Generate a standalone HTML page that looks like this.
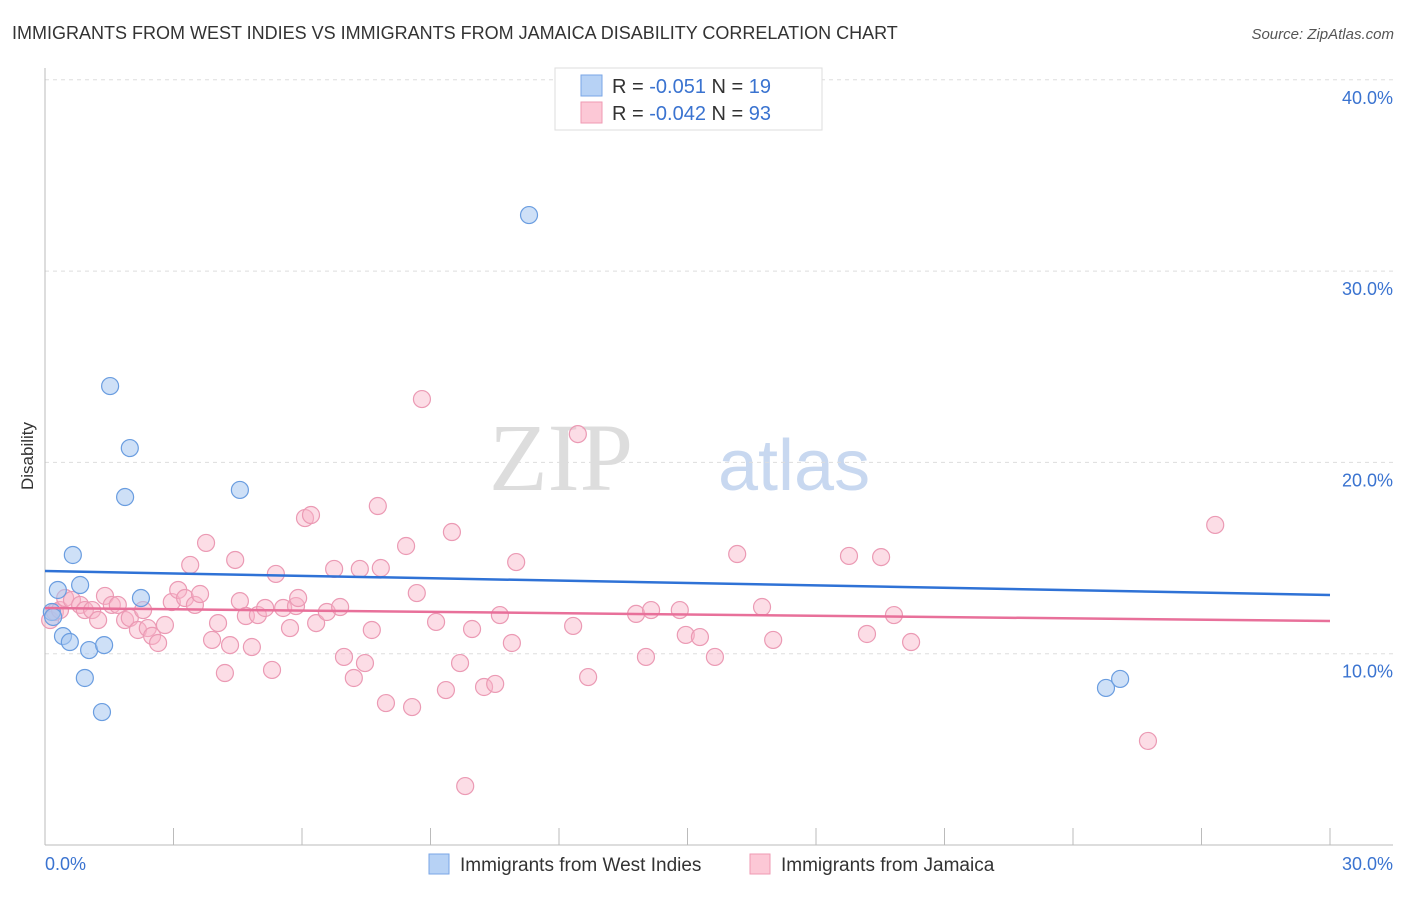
<!DOCTYPE html>
<html><head><meta charset="utf-8"><style>
body{margin:0;background:#fff;font-family:"Liberation Sans",sans-serif}
</style></head><body>
<svg id="chart" width="1406" height="892" xmlns="http://www.w3.org/2000/svg">
<text x="12" y="39" font-size="18" fill="#333">IMMIGRANTS FROM WEST INDIES VS IMMIGRANTS FROM JAMAICA DISABILITY CORRELATION CHART</text>
<text x="1394" y="39" font-size="15" font-style="italic" fill="#555" text-anchor="end">Source: ZipAtlas.com</text>
<text x="33" y="456" font-size="17" fill="#333" transform="rotate(-90 33 456)" text-anchor="middle">Disability</text>
<text x="633" y="490" font-size="96" font-family="Liberation Serif,serif" fill="#ddd" text-anchor="end">ZIP</text>
<text x="718" y="490" font-size="72" fill="#c8d8f0">atlas</text>
<g id="grid"></g><g id="pts"></g><g id="lines"></g>
<g>
<rect x="555" y="68" width="267" height="62" fill="#fff" stroke="#ddd"/>
<rect x="581" y="75" width="21" height="21" fill="#b7d2f5" stroke="#7aa6e6"/>
<rect x="581" y="102" width="21" height="21" fill="#fcc8d6" stroke="#ef9ab3"/>
<text x="612" y="93" font-size="20" fill="#333">R = <tspan fill="#3a73d0"> -0.051</tspan>   N = <tspan fill="#3a73d0"> 19</tspan></text>
<text x="612" y="120" font-size="20" fill="#333">R = <tspan fill="#3a73d0">-0.042</tspan>   N = <tspan fill="#3a73d0">93</tspan></text>
</g>
<g>
<rect x="429" y="854" width="20" height="20" fill="#b7d2f5" stroke="#7aa6e6"/>
<text x="460" y="871" font-size="19" fill="#333">Immigrants from West Indies</text>
<rect x="750" y="854" width="20" height="20" fill="#fcc8d6" stroke="#ef9ab3"/>
<text x="781" y="871" font-size="19" fill="#333">Immigrants from Jamaica</text>
</g>
</svg>
<script>
const yTicks=[10,20,30,40];
const xTickLabels=["0.0%","30.0%"];
const blueX=[0.16,0.19,0.30,0.42,0.58,0.65,0.82,0.93,1.03,1.33,1.38,1.52,1.87,1.98,2.24,4.55,11.30,24.77,25.10];
const blueY=[12.18,11.92,13.33,10.92,10.61,15.16,13.59,8.73,10.19,6.95,10.45,23.99,18.19,20.75,12.91,18.56,32.93,8.21,8.68];
const pinkPx=[50,55,60,65,72,80,85,92,98,105,112,118,125,130,138,143,148,152,158,165,172,178,185,190,195,200,206,212,218,225,230,235,240,246,252,258,265,272,276,283,290,296,298,305,311,316,327,334,340,344,354,360,365,372,378,381,386,406,412,417,422,436,446,452,460,472,484,495,500,512,516,578,588,573,636,646,651,680,686,700,715,737,762,773,849,867,881,894,911,1148,1215,465];
const pinkPy=[620,612,610,598,600,605,610,610,620,596,605,605,620,618,630,610,628,636,643,625,602,590,598,565,605,594,543,640,623,673,645,560,601,616,647,615,608,670,574,608,628,606,598,518,515,623,612,569,607,657,678,569,663,630,506,568,703,546,707,593,399,622,690,532,663,629,687,684,615,643,562,434,677,626,614,657,610,610,635,637,657,554,607,640,556,634,557,615,642,741,525,786];
const pinkX=pinkPx.map(p=>+((p-45)*30/1285).toFixed(2));
const pinkY=pinkPy.map(p=>+((845-p)/19.13).toFixed(2));
const blueTrend=[14.32,13.07];
const pinkTrend=[12.39,11.71];
const X0=45,X1=1330,Y0=845;
const sx=v=>X0+v*(X1-X0)/30;
const sy=v=>Y0-v*19.13;
const NS="http://www.w3.org/2000/svg";
function mk(tag,attrs,parent){const e=document.createElementNS(NS,tag);for(const k in attrs)e.setAttribute(k,attrs[k]);parent.appendChild(e);return e;}
const grid=document.getElementById('grid');
yTicks.forEach(t=>{
 const l=mk('line',{x1:X0,x2:1393,y1:sy(t),y2:sy(t),stroke:'#ddd','stroke-dasharray':'4,4'},grid);
 
 
 const tx=mk('text',{x:1393,y:sy(t)+24,'font-size':18,fill:'#3a73d0','text-anchor':'end'},grid);
 tx.textContent=t.toFixed(1)+'%';
 
 
});
const ax=mk('line',{x1:X0,x2:1393,y1:Y0,y2:Y0,stroke:'#bbb'},grid);


const ay=mk('line',{x1:X0,x2:X0,y1:68,y2:Y0,stroke:'#bbb'},grid);


for(let i=0;i<=10;i++){const x=sx(i*3);const tk=mk('line',{x1:x,x2:x,y1:828,y2:Y0,stroke:'#bbb'},grid);
 
 }
[[0,'start',45],[30,'end',1393]].forEach(([v,a,x],i)=>{const t=mk('text',{x:x,y:870,'font-size':18,fill:'#3a73d0','text-anchor':a},grid);t.textContent=xTickLabels[i];
 
 });
const pts=document.getElementById('pts');
pinkX.forEach((v,i)=>{const c=mk('circle',{cx:sx(v),cy:sy(pinkY[i]),r:8.5,fill:'rgba(248,180,200,0.45)',stroke:'#eb9ab4','stroke-width':1.2},pts);
 
 });
blueX.forEach((v,i)=>{const c=mk('circle',{cx:sx(v),cy:sy(blueY[i]),r:8.5,fill:'rgba(165,198,240,0.55)',stroke:'#6a9de0','stroke-width':1.2},pts);
 
 });
const lines=document.getElementById('lines');
const bl=mk('line',{x1:sx(0),x2:sx(30),y1:sy(blueTrend[0]),y2:sy(blueTrend[1]),stroke:'#2f72d6','stroke-width':2.5},lines);


const pl=mk('line',{x1:sx(0),x2:sx(30),y1:sy(pinkTrend[0]),y2:sy(pinkTrend[1]),stroke:'#e8709a','stroke-width':2.5},lines);


</script>
</body></html>
